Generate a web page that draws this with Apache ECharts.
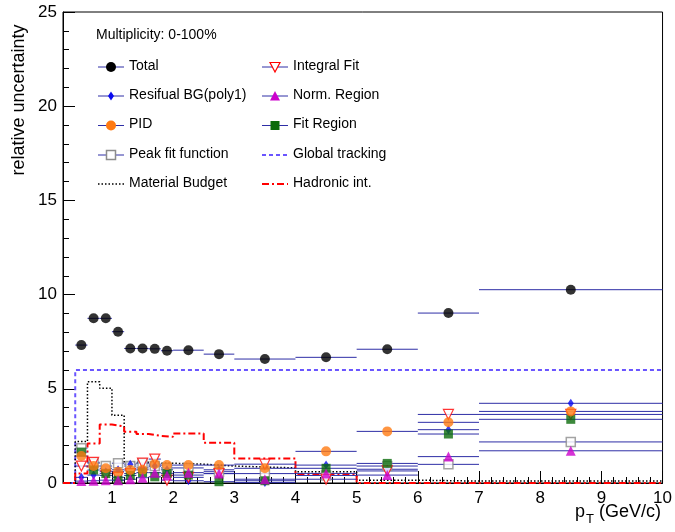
<!DOCTYPE html>
<html>
<head>
<meta charset="utf-8">
<script src="https://cdn.jsdelivr.net/npm/echarts@6/dist/echarts.min.js"></script>
<style>
  html, body { margin: 0; padding: 0; background: #fff; }
  #chart { width: 675px; height: 532px; }
</style>
</head>
<body>
<div id="chart"></div>
<script>
// pT bins (GeV/c)
const binLow  = [0.4, 0.6, 0.8, 1.0, 1.2, 1.4, 1.6, 1.8, 2.0, 2.5, 3.0, 4.0, 5.0, 6.0, 7.0];
const binHigh = [0.6, 0.8, 1.0, 1.2, 1.4, 1.6, 1.8, 2.0, 2.5, 3.0, 4.0, 5.0, 6.0, 7.0, 10.0];

// relative uncertainties per bin (%)
const total        = [7.32, 8.74, 8.74, 8.03, 7.14, 7.14, 7.12, 7.02, 7.05, 6.84, 6.58, 6.67, 7.10, 9.02, 10.26];
const residualBG   = [0.30, 0.42, 0.60, 0.70, 1.00, 0.80, 0.90, 0.70, 0.12, 0.70, 0.02, 0.95, 0.73, 2.83, 4.23];
const pid          = [1.43, 0.90, 0.78, 0.60, 0.69, 0.70, 1.00, 0.95, 0.95, 0.95, 0.78, 1.68, 2.74, 3.22, 3.80];
const peakFit      = [1.85, 1.05, 0.90, 1.05, 0.90, 1.05, 0.90, 0.80, 0.80, 0.60, 0.50, 0.40, 0.90, 0.99, 2.18];
const integralFit  = [0.90, 1.10, 0.40, 0.30, 0.50, 1.05, 1.27, 0.15, 0.30, 0.50, 1.00, 0.20, 0.64, 3.64, 3.64];
const normRegion   = [0.10, 0.12, 0.15, 0.15, 0.20, 0.28, 0.55, 0.40, 0.55, 0.50, 0.20, 0.51, 0.42, 1.40, 1.71];
const fitRegion    = [1.64, 0.69, 0.50, 0.15, 0.40, 0.55, 0.33, 0.51, 0.42, 0.07, 0.12, 0.78, 1.04, 2.60, 3.38];
const materialBudget = [2.20, 5.37, 5.03, 3.60, 1.10, 1.10, 1.05, 1.05, 1.00, 0.90, 0.80, 0.60, 0.15, 0.10, 0.10];
const globalTracking = [6.0, 6.0, 6.0, 6.0, 6.0, 6.0, 6.0, 6.0, 6.0, 6.0, 6.0, 6.0, 6.0, 6.0, 6.0];
const hadronicInt    = [0.50, 2.10, 3.10, 3.00, 2.72, 2.60, 2.50, 2.45, 2.63, 2.14, 1.30, 0.46, 0.0, 0.0, 0.0];

// axis ticks
const xTickLabels = [1, 2, 3, 4, 5, 6, 7, 8, 9, 10];
const xMin = 0.2, xMax = 10;
const yMin = 0, yMax = 25;

const FONT = '"Liberation Sans", Arial, Helvetica, sans-serif';
const BAR_COLOR = '#2e2ea6';

const xMinorTicks = [];
for (let k = 2; k <= 50; k++) {
  const v = +(k * 0.2).toFixed(1);
  if (Math.abs(v - Math.round(v)) > 1e-6) xMinorTicks.push(v);
}

function barData(values) {
  return values.map((v, i) => [binLow[i], binHigh[i], v]);
}
function pointData(values) {
  return values.map((v, i) => [(binLow[i] + binHigh[i]) / 2, v]);
}
// histogram outline: zero line up to the first bin, then one flat segment per bin
function stepData(values, startAt) {
  const pts = [[startAt, 0], [binLow[0], 0]];
  values.forEach((v, i) => { pts.push([binLow[i], v]); pts.push([binHigh[i], v]); });
  return pts;
}

function errorBarSeries(values, z) {
  return {
    type: 'custom',
    z: z,
    silent: true,
    data: barData(values),
    encode: { x: [0, 1], y: 2 },
    renderItem: function (params, api) {
      const a = api.coord([api.value(0), api.value(2)]);
      const b = api.coord([api.value(1), api.value(2)]);
      return {
        type: 'line',
        shape: { x1: a[0], y1: a[1], x2: b[0], y2: b[1] },
        style: { stroke: BAR_COLOR, lineWidth: 1 }
      };
    }
  };
}

function markerSeries(name, values, sym, z) {
  return Object.assign({
    name: name,
    type: 'scatter',
    z: z,
    silent: true,
    data: pointData(values)
  }, sym);
}

function stepSeries(name, values, lineStyle, z) {
  return {
    name: name,
    type: 'line',
    z: z,
    silent: true,
    symbol: 'none',
    data: stepData(values, xMin),
    lineStyle: lineStyle
  };
}

const graphs = [
  { name: 'Total', values: total,
    sym: { symbol: 'circle', symbolSize: 10, itemStyle: { color: '#000' } } },
  { name: 'Peak fit function', values: peakFit,
    sym: { symbol: 'rect', symbolSize: 9, itemStyle: { color: '#fff', borderColor: '#8c8c8c', borderWidth: 1.5 } } },
  { name: 'Resifual BG(poly1)', values: residualBG,
    sym: { symbol: 'diamond', symbolSize: [6, 9], itemStyle: { color: '#0a0af0' } } },
  { name: 'Integral Fit', values: integralFit,
    sym: { symbol: 'triangle', symbolRotate: 180, symbolSize: 10, itemStyle: { color: '#fff', borderColor: '#ff0000', borderWidth: 1.2 } } },
  { name: 'Fit Region', values: fitRegion,
    sym: { symbol: 'rect', symbolSize: 9, itemStyle: { color: '#0b6b0b' } } },
  { name: 'PID', values: pid,
    sym: { symbol: 'circle', symbolSize: 10, itemStyle: { color: '#ff7a12' } } },
  { name: 'Norm. Region', values: normRegion,
    sym: { symbol: 'triangle', symbolSize: 10, itemStyle: { color: '#cc00cc' } } }
];

const series = [];
series.push(stepSeries('Global tracking', globalTracking, { color: '#6a55ff', width: 2, type: [4, 3] }, 1));
series.push(stepSeries('Material Budget', materialBudget, { color: '#000', width: 1.5, type: [1.5, 2] }, 1));
series.push(stepSeries('Hadronic int.', hadronicInt, { color: '#ff0000', width: 2, type: [7, 3, 2, 3] }, 1));
graphs.forEach(g => series.push(errorBarSeries(g.values, 2)));
graphs.forEach((g, i) => series.push(markerSeries(g.name, g.values, g.sym, 3 + i)));

// legend block
const legendEntries = [
  { col: 0, row: 0, label: 'Total', kind: 'circle', color: '#000' },
  { col: 0, row: 1, label: 'Resifual BG(poly1)', kind: 'diamond', color: '#0a0af0' },
  { col: 0, row: 2, label: 'PID', kind: 'circle', color: '#ff7a12' },
  { col: 0, row: 3, label: 'Peak fit function', kind: 'openRect', color: '#8c8c8c' },
  { col: 0, row: 4, label: 'Material Budget', kind: 'dotted', color: '#000' },
  { col: 1, row: 0, label: 'Integral Fit', kind: 'openTriDown', color: '#ff0000' },
  { col: 1, row: 1, label: 'Norm. Region', kind: 'triUp', color: '#cc00cc' },
  { col: 1, row: 2, label: 'Fit Region', kind: 'rect', color: '#0b6b0b' },
  { col: 1, row: 3, label: 'Global tracking', kind: 'dashed', color: '#6a55ff' },
  { col: 1, row: 4, label: 'Hadronic int.', kind: 'dashdot', color: '#ff0000' }
];
const colX = [98, 262];
const rowY = [67, 96, 125.5, 155, 184];

const graphic = [{
  type: 'text', left: 96, top: 28,
  style: { text: 'Multiplicity: 0-100%', font: '14px ' + FONT, fill: '#000' }
}];

legendEntries.forEach(e => {
  const x0 = colX[e.col], cy = rowY[e.row], cx = x0 + 13;
  const lineKinds = { dotted: [1.5, 2], dashed: [4, 3], dashdot: [7, 3, 2, 3] };
  if (lineKinds[e.kind]) {
    graphic.push({
      type: 'line', shape: { x1: x0, y1: cy, x2: x0 + 26, y2: cy },
      style: { stroke: e.color, lineWidth: e.kind === 'dotted' ? 1.5 : 2, lineDash: lineKinds[e.kind] }
    });
  } else {
    graphic.push({
      type: 'line', shape: { x1: x0, y1: cy, x2: x0 + 26, y2: cy },
      style: { stroke: BAR_COLOR, lineWidth: 1 }
    });
    let m;
    if (e.kind === 'circle') m = { type: 'circle', shape: { cx: cx, cy: cy, r: 5 }, style: { fill: e.color } };
    else if (e.kind === 'diamond') m = { type: 'polygon', shape: { points: [[cx, cy - 4.5], [cx + 3, cy], [cx, cy + 4.5], [cx - 3, cy]] }, style: { fill: e.color } };
    else if (e.kind === 'openRect') m = { type: 'rect', shape: { x: cx - 4.5, y: cy - 4.5, width: 9, height: 9 }, style: { fill: '#fff', stroke: e.color, lineWidth: 1.5 } };
    else if (e.kind === 'rect') m = { type: 'rect', shape: { x: cx - 4.5, y: cy - 4.5, width: 9, height: 9 }, style: { fill: e.color } };
    else if (e.kind === 'openTriDown') m = { type: 'polygon', shape: { points: [[cx - 5, cy - 4.5], [cx + 5, cy - 4.5], [cx, cy + 5]] }, style: { fill: '#fff', stroke: e.color, lineWidth: 1.2 } };
    else if (e.kind === 'triUp') m = { type: 'polygon', shape: { points: [[cx - 5, cy + 4.5], [cx + 5, cy + 4.5], [cx, cy - 5]] }, style: { fill: e.color } };
    graphic.push(m);
  }
  graphic.push({
    type: 'text', left: x0 + 31, top: cy - 8,
    style: { text: e.label, font: '14px ' + FONT, fill: '#000' }
  });
});

// axis titles
graphic.push({
  type: 'text', x: 19, y: 100, rotation: Math.PI / 2,
  style: { text: 'relative uncertainty', font: '18px ' + FONT, fill: '#000', align: 'center', verticalAlign: 'middle' }
});
graphic.push({ type: 'text', left: 575, top: 503, style: { text: 'p', font: '18px ' + FONT, fill: '#000' } });
graphic.push({ type: 'text', left: 586, top: 513, style: { text: 'T', font: '13px ' + FONT, fill: '#000' } });
graphic.push({ type: 'text', left: 599, top: 503, style: { text: '(GeV/c)', font: '18px ' + FONT, fill: '#000' } });

const chart = echarts.init(document.getElementById('chart'), null, { renderer: 'canvas' });
chart.setOption({
  animation: false,
  backgroundColor: '#fff',
  grid: { left: 63, right: 9, top: 12, bottom: 49, show: true, borderColor: '#000', borderWidth: 1, backgroundColor: 'transparent' },
  xAxis: [{
    type: 'value', min: xMin, max: xMax,
    axisLine: { lineStyle: { color: '#000', width: 1 } },
    axisTick: { inside: true, length: 12, customValues: xTickLabels, lineStyle: { color: '#000' } },
    axisLabel: { customValues: xTickLabels, color: '#000', fontSize: 17, fontFamily: FONT, margin: 7 },
    splitLine: { show: false }
  }, {
    type: 'value', min: xMin, max: xMax, position: 'bottom',
    axisLine: { show: false },
    axisTick: { inside: true, length: 6, customValues: xMinorTicks, lineStyle: { color: '#000' } },
    axisLabel: { show: false },
    splitLine: { show: false }
  }],
  yAxis: {
    type: 'value', min: yMin, max: yMax, interval: 5,
    axisLine: { show: true, lineStyle: { color: '#000', width: 1 } },
    axisTick: { show: true, inside: true, length: 12, lineStyle: { color: '#000' } },
    minorTick: { show: true, splitNumber: 5, length: 6, lineStyle: { color: '#000' } },
    axisLabel: { color: '#000', fontSize: 17, fontFamily: FONT, margin: 6 },
    splitLine: { show: false }
  },
  series: series,
  graphic: graphic
});
</script>
</body>
</html>
